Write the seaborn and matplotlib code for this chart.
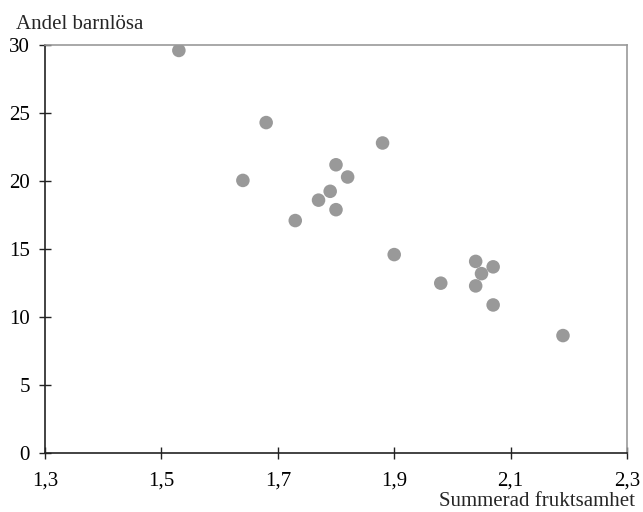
import seaborn as sns
import matplotlib.pyplot as plt
import pandas as pd
from matplotlib.ticker import FuncFormatter

# data --------------------------------------------------
fruktsamhet = [1.53, 1.68, 1.88, 1.80, 1.82, 1.64, 1.79, 1.77, 1.80, 1.73,
               1.90, 2.04, 2.07, 2.05, 1.98, 2.04, 2.07, 2.19]
barnlosa = [29.6, 24.3, 22.8, 21.2, 20.3, 20.05, 19.25, 18.6, 17.9, 17.1,
            14.6, 14.1, 13.7, 13.2, 12.5, 12.3, 10.9, 8.65]
x_ticks = [1.3, 1.5, 1.7, 1.9, 2.1, 2.3]
y_ticks = [0, 5, 10, 15, 20, 25, 30]

df = pd.DataFrame({"Summerad fruktsamhet": fruktsamhet,
                   "Andel barnlösa": barnlosa})

sns.set_theme(style="white")
plt.rcParams["font.family"] = ["Liberation Serif", "DejaVu Serif"]

fig, ax = plt.subplots(figsize=(6.43, 5.12), dpi=100)
fig.subplots_adjust(left=45/643, right=627/643, bottom=1-453.3/512, top=1-45/512)

sns.scatterplot(data=df, x="Summerad fruktsamhet", y="Andel barnlösa",
                color="#999999", s=95, edgecolor="none", ax=ax)

ax.set_xlim(1.3, 2.3)
ax.set_ylim(0, 30)
ax.set_xticks(x_ticks)
ax.set_yticks(y_ticks)
ax.xaxis.set_major_formatter(FuncFormatter(lambda v, p: f"{v:.1f}".replace(".", ",")))
ax.tick_params(axis="both", bottom=True, left=True, direction="inout", length=8,
               width=1, color="#222222", labelsize=15, labelcolor="black")
ax.tick_params(axis="x", pad=9)
ax.tick_params(axis="y", pad=7)

for side in ["left", "bottom"]:
    ax.spines[side].set_color("#222222")
    ax.spines[side].set_linewidth(1.2)
for side in ["top", "right"]:
    ax.spines[side].set_color("#999999")
    ax.spines[side].set_linewidth(1.2)

ax.set_xlabel("Summerad fruktsamhet", fontsize=15, ha="right", va="baseline")
ax.xaxis.set_label_coords((635-45)/582, (453.3-506)/408.3)
ax.set_ylabel("Andel barnlösa", fontsize=15, rotation=0, ha="left", va="baseline")
ax.yaxis.set_label_coords((16-45)/582, (453.3-29)/408.3)

fig.savefig("out.png", dpi=100)
